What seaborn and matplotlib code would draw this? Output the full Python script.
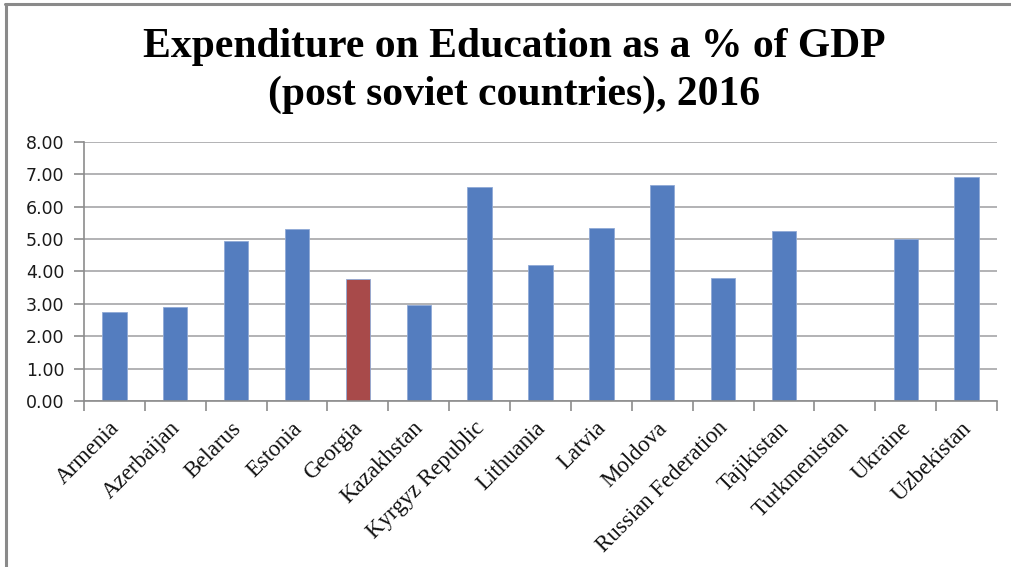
import numpy as np
import pandas as pd
import matplotlib
matplotlib.use("Agg")
import matplotlib.pyplot as plt
import matplotlib.transforms as mtransforms
from matplotlib.lines import Line2D
import seaborn as sns

countries = ["Armenia", "Azerbaijan", "Belarus", "Estonia", "Georgia",
             "Kazakhstan", "Kyrgyz Republic", "Lithuania", "Latvia", "Moldova",
             "Russian Federation", "Tajikistan", "Turkmenistan", "Ukraine",
             "Uzbekistan"]
spending = [2.76, 2.89, 4.94, 5.30, 3.77,
            2.95, 6.59, 4.21, 5.33, 6.65,
            3.81, 5.23, np.nan, 5.00, 6.92]
y_ticks = [0, 1, 2, 3, 4, 5, 6, 7, 8]
highlight = "Georgia"

BLUE = "#547DBF"
RED = "#A84A4A"
GRID = "#A6A6A8"

sns.set_theme(style="white")
plt.rcParams["font.family"] = ["DejaVu Sans"]

df = pd.DataFrame({"country": countries, "pct": spending})
palette = {c: (RED if c == highlight else BLUE) for c in countries}

fig = plt.figure(figsize=(10.11, 5.67), dpi=100)
ax = fig.add_axes([84 / 1011, 1 - 401 / 567, (997 - 84) / 1011, (401 - 141.7) / 567])

sns.barplot(data=df, x="country", y="pct", hue="country", palette=palette,
            order=countries, legend=False, width=0.4, saturation=1,
            edgecolor="#8FA9D6", linewidth=0.6, ax=ax)

ax.set_xlim(-0.5, len(countries) - 0.5)
ax.set_ylim(0, 8)
ax.set_yticks(y_ticks)
ax.set_yticklabels([f"{v:.2f}" for v in y_ticks], fontsize=12.5, color="#1a1a1a")
ax.set_xlabel("")
ax.set_ylabel("")

# horizontal gridlines
ax.yaxis.grid(True, color=GRID, linewidth=1.2)
ax.xaxis.grid(False)
ax.set_axisbelow(True)

for side in ["top", "right"]:
    ax.spines[side].set_visible(False)
for side in ["left", "bottom"]:
    ax.spines[side].set_visible(True)
    ax.spines[side].set_color("#8C8C8C")
    ax.spines[side].set_linewidth(1.2)

ax.tick_params(axis="y", which="major", left=True, length=7, width=1.2,
               color="#8C8C8C", pad=7)

# category labels at bar centers, boundary tick marks between categories
ax.set_xticks(range(len(countries)))
ax.set_xticklabels(countries, rotation=45, ha="right", va="top",
                   fontsize=16.5, family="Liberation Serif", color="#111111")
ax.tick_params(axis="x", which="major", bottom=False, length=0, pad=12)
ax.set_xticks(np.arange(-0.5, len(countries), 1), minor=True)
ax.tick_params(axis="x", which="minor", bottom=True, length=7, width=1.2,
               color="#8C8C8C")
shift = mtransforms.ScaledTranslation(9 / 100, 0, fig.dpi_scale_trans)
for lbl in ax.get_xticklabels():
    lbl.set_transform(lbl.get_transform() + shift)

fig.text(514 / 1011, 1 - 71 / 567,
         "Expenditure on Education as a % of GDP\n(post soviet countries), 2016",
         ha="center", va="center", fontsize=30, fontweight="bold",
         family="Liberation Serif", linespacing=1.3, color="black")

# chart-area frame (top and left edges)
fig.add_artist(Line2D([5 / 1011, 1], [1 - 4 / 567, 1 - 4 / 567],
                      transform=fig.transFigure, color="#8A8A8A", linewidth=2.2))
fig.add_artist(Line2D([6 / 1011, 6 / 1011], [0, 1 - 4 / 567],
                      transform=fig.transFigure, color="#8A8A8A", linewidth=2.2))

fig.savefig("out.png", dpi=100, facecolor="white")
